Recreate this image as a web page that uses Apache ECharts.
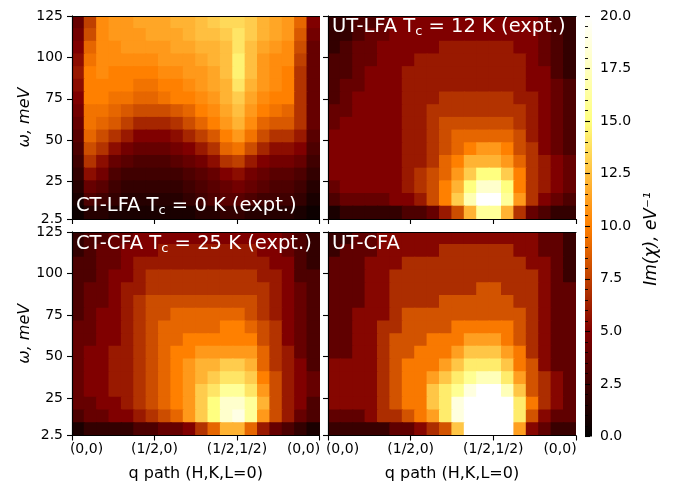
<!DOCTYPE html>
<html><head><meta charset="utf-8">
<script src="https://cdn.jsdelivr.net/npm/echarts@6/dist/echarts.min.js"></script>
<style>html,body{margin:0;padding:0;background:#fff}#c{width:678px;height:485px}</style>
</head><body><div id="c"></div>
<script>
// ---- data ----
const qCenters = [0.075,0.225,0.375,0.525,0.675,0.825,0.975,1.125,1.275,1.425,1.575,1.725,1.875,2.025,2.175,2.325,2.475,2.625,2.775,2.925];
const omegaCenters = [6.3,14.0,21.6,29.3,36.9,44.6,52.3,59.9,67.6,75.2,82.9,90.5,98.2,105.9,113.5,121.2]; // bottom -> top
const qTickLabels = ['(0,0)','(1/2,0)','(1/2,1/2)','(0,0)'];
const omegaTicks = [2.5,25,50,75,100,125];
const colorTicks = [0,2.5,5,7.5,10,12.5,15,17.5,20];

// Im(chi) maps, rows from omega=125 (top) down to omega=2.5 (bottom), columns along q path
const ctLfa = [
 [4,7.5,10.5,11,11,11.5,11.5,11.5,12,12,12.5,13,13.5,13.5,13,12,11.5,11,9,5],
 [4.5,8,10.5,11,11,11,11.5,11.5,11.5,12,12.5,12.5,13,14,13,12,11.5,11,8.5,4.5],
 [5,9,10.5,10.5,11,11,11,11,11.5,11.5,12,12,12.5,14,12.5,11.5,11,10.5,8,4],
 [5.5,9.5,10.5,10.5,10.5,10.5,10.5,11,11,11,11.5,12,12.5,14.5,12.5,11,10.5,10.5,7.5,4],
 [6,10,10.5,10,10,10,10,10.5,10.5,11,11,11.5,12.5,14.5,12.5,11,10.5,10,7,4],
 [5.5,10,10,10,10,9.5,9.5,10,10,10.5,11,11.5,12,14,12,11,10.5,10,7,4],
 [5,10,10,9.5,9.5,9,9,9.5,10,10,10.5,11,12,13,11.5,10.5,10,10,7,4],
 [4.5,9.5,9.5,9,8.5,8,8,8,8.5,9,10,10.5,11.5,12.5,11,10,9.5,9,7,4],
 [4,9.5,9,8.5,7.5,6.5,6.5,6.5,7,8,9,10,11,12,10.5,9,8.5,8.5,7,4],
 [3.5,9,8,7,6,5,5,5,5.5,6.5,7.5,8.5,10,11,9.5,8,7,7,6,3.5],
 [3,8,7,5.5,4.5,4,4,4,4.5,5,6,7,9,9.5,8,6.5,5.5,5.5,5,3],
 [2.5,7,5.5,4,3.5,3,3,3,3.5,4,4.5,5.5,7,7.5,6,5,4.5,4.5,4,2.5],
 [2,5.5,4.5,3,2.5,2.5,2.5,2.5,2.5,3,3.5,4,5,5.5,4.5,4,3.5,3.5,3,2],
 [1.5,4,3.5,2.5,2,2,2,2,2,2.5,3,3.5,4,4.5,4,3.5,3,3,2.5,1.5],
 [1,3,2.5,2,1.5,1.5,1.5,1.5,1.5,2,2.5,3,3.5,3.5,3,2.5,2.5,2.5,2,1],
 [0.5,1.5,1.5,1,1,1,1,1,1,1,1.5,1.5,2,2,1.5,1.5,1.5,1.5,1,0.5]
];
const utLfa = [
 [1.5,2,2.5,3,3.5,4.5,5,5,5,5,5,5,5,5,5,5,4.5,4,3,2],
 [1.5,2,3,3.5,4,5,5,5,5,5,5,5,5,5,5,5,4.5,4,3,2],
 [2,2.5,3.5,4,4.5,5,5,5,5,5.5,5.5,5.5,5.5,5.5,5.5,5,4.5,4,3,2],
 [2.5,3,3.5,4,4.5,5,5,5.5,5.5,5.5,5.5,5.5,5.5,5.5,5.5,5.5,5,4,3,2],
 [2.5,3,4,4.5,5,5,5.5,6,6,6,6,6,6,6,6,6,5,4.5,3,2],
 [3,3.5,4,4.5,5,5,5.5,6,6,6,6,6,6,6,6,6,5,4.5,3.5,2.5],
 [3,4,4.5,5,5,5,5.5,6,6,6.5,6.5,6.5,6.5,6.5,6.5,6,5.5,4.5,3.5,2.5],
 [3.5,4,4.5,5,5,5,5.5,6,6.5,7,7,7,7,7,7,6.5,5.5,5,4,3],
 [4,4.5,5,5,5,5,5.5,6,7,7.5,8,8,8,8,7.5,7,6,5,4,3],
 [4.5,5,5,5,5,5,5.5,6,7,8,8.5,9,9,9,8.5,7.5,6,5,4,3],
 [5,5,5,5,5,5,5.5,6,7,8,9,10,10.5,10.5,9.5,8,6.5,5,4,3],
 [5,5,5,5,5,5,5.5,6,7,8.5,10,11.5,12,12,11,8.5,6.5,5.5,4.5,3.5],
 [4.5,5,5,5,5,5,5.5,6.5,7.5,9,11,13,14.5,14.5,12.5,9.5,7,5.5,4.5,3.5],
 [4,4.5,4.5,4.5,4.5,5,5.5,6.5,7.5,9.5,12,15,18,18,14.5,10,7,5.5,4.5,3.5],
 [3,3.5,3.5,4,4,4.5,5,6,7.5,9.5,12.5,16.5,21,21,16,10.5,7,5,4,3],
 [1,1.5,1.5,1.5,2,2,2.5,3,4,5.5,8,12,16,16,12,7,4,2.5,2,1.5]
];
const ctCfa = [
 [2,2.5,3,3.5,4,4.5,5,5,5,5,5,5,5,5,5,5,4.5,4,3,2],
 [2,3,3.5,4,4.5,5,5,5.5,5.5,5.5,5.5,5.5,5.5,5.5,5.5,5,5,4,3,2],
 [2.5,3,3.5,4,5,5.5,6,6,6,6,6,6,6,6,6,6,5,4.5,3,2],
 [2.5,3,4,4.5,5,6,6.5,7,7,7,7,7,7,7,6.5,6,5.5,4.5,3,2.5],
 [3,3.5,4,4.5,5.5,6,7,7,7,7,7,7,7,7,7,6.5,5.5,4.5,3.5,2.5],
 [3,3.5,4,5,5.5,6.5,7.5,8,8,8,8,8,8,8,7.5,7,6,5,3.5,2.5],
 [3,4,4.5,5,5.5,6.5,7.5,8,8.5,8.5,8.5,8.5,8.5,8.5,8,7,6,5,3.5,2.5],
 [3.5,4,4.5,5,6,7,7.5,8.5,9,9,9,9,9.5,9.5,9,7.5,6.5,5,4,3],
 [3.5,4,5,5,6,7,8,8.5,9,9.5,10,10,10,10,9.5,8,6.5,5,4,3],
 [4,4.5,5,5.5,6,7,8,8.5,9.5,10,10.5,11,11,11,10.5,8.5,7,5.5,4,3],
 [4,4.5,5,5.5,6,7,8,9,9.5,10.5,11.5,12,12.5,12.5,11.5,9,7,5.5,4.5,3],
 [4,4.5,5,5.5,6,7,8,9,10,11,12,13,13.5,13.5,12.5,10,7.5,6,4.5,3.5],
 [4,4.5,5,5.5,6,7,7.5,8.5,10,11,12.5,14,15.5,15.5,14,11,8,6,4.5,3.5],
 [3.5,4,4.5,5,5.5,6.5,7.5,8.5,9.5,11,13,15,17.5,18,15.5,11.5,8,6,4.5,3],
 [3,3.5,4,4.5,5,6,7,8,9,10.5,12.5,15,18,18.5,15.5,11,7.5,5.5,4,3],
 [1,1.5,1.5,2,2,2.5,3,3.5,4,5,6.5,9,12,12,9,6,4,2.5,2,1]
];
const utCfa = [
 [2,2.5,4,4,5,5,5,5,5.5,5.5,5.5,5.5,5.5,5.5,5.5,5,5,4,3,2],
 [2.5,3,4,4,5,5,5.5,5.5,5.5,6,6,6,7,7,6,5.5,5,4,3,2],
 [3,3.5,4,4.5,5,5.5,6,6.5,7,7,7,7,7,7,7,6.5,5.5,4.5,3.5,2.5],
 [3.5,4,4,4.5,5,6,7,7,7,7,7,7,7,7,7,7,6,5,4,2.5],
 [3.5,4,4,4.5,5,6.5,7,7,7,7,7,7,7.5,7.5,7,7,6,5,4,3],
 [4,4,4,5,5,7,7,7,7,7.5,8,8.5,8.5,8.5,8,7,6.5,5,4,3],
 [4,4,4.5,5,5.5,7,7.5,8.5,8.5,8.5,8.5,8.5,8.5,8.5,8.5,7.5,6.5,5,4,3],
 [4,4,4.5,5,6,7,8.5,8.5,8.5,8.5,9,10,10,10,9,8,7,5.5,4,3],
 [4,4,4.5,5,6.5,7.5,8.5,8.5,9,10,10,11,11.5,11,10,8.5,7,5.5,4,3],
 [4,4,4.5,5,6.5,8,8.5,9,10,10,11,12,12.5,12.5,11,9,7,5.5,4,3],
 [4.5,5,5,5.5,7,8.5,9.5,10,10,11,12.5,14,14,14,12.5,10,7.5,5.5,4,3],
 [5,5,5,5.5,7,8.5,10,10,11.5,12.5,14,15.5,16.5,16.5,14.5,11,8,6,4.5,3],
 [5,5,5,5.5,7,8.5,10,10,12,14,16,18,19.5,19.5,17,12.5,8.5,6,4.5,3],
 [4.5,5,5,5.5,7,8.5,9.5,10,12,14.5,18,21,22,22,21,14,9,6,4.5,3],
 [3.5,4,4,5,6,7,8.5,9.5,11,13.5,18,22,23,23,22,14.5,8.5,5.5,4,3],
 [1.5,1.5,2,2,2.5,3,4,5,6,8,13,20,22,22,20,11,5,3,2,1.5]
];

// ---- styling helpers ----
function afmhot(t){
  t = Math.max(0, Math.min(1, t));
  const c = x => Math.round(255*Math.max(0, Math.min(1, x)));
  return 'rgb(' + c(2*t) + ',' + c(2*t-0.5) + ',' + c(2*t-1) + ')';
}
function levelPieces(step, offset){
  const p = [{lt: offset, color: afmhot(0)}];
  for (let a = offset; a < 30; a += step) p.push({gte: a, lt: a + step, color: afmhot((a + step/2)/20)});
  p.push({gte: 30, color: afmhot(1)});
  return p;
}
const FONT = 'DejaVu Sans';
const panels = [
  {data: ctLfa, left: 72,  top: 16,  width: 247.5, height: 203,   yLab: true,  xLab: false, step: 0.5, offset: -0.25},
  {data: utLfa, left: 328, top: 16,  width: 248,   height: 203,   yLab: false, xLab: false, step: 1,   offset: -0.5},
  {data: ctCfa, left: 72,  top: 232, width: 247.5, height: 203.5, yLab: true,  xLab: true,  step: 1,   offset: -0.5},
  {data: utCfa, left: 328, top: 232, width: 248,   height: 203.5, yLab: false, xLab: true,  step: 1.5, offset: 0}
];

function qLabel(v){
  const i = Math.round(v);
  if (i === 0) return '{l|' + qTickLabels[i] + '}';
  if (i === qTickLabels.length - 1) return '{r|' + qTickLabels[i] + '}';
  return qTickLabels[i];
}

const grid = [], xAxis = [], yAxis = [], series = [], visualMap = [];
const axisLine = {show: true, lineStyle: {color: '#000', width: 1.1}};
panels.forEach((p, i) => {
  grid.push({left: p.left, top: p.top, width: p.width, height: p.height, containLabel: false});
  xAxis.push({type: 'category', gridIndex: i, data: qCenters, position: 'top', z: 10,
    axisLine: axisLine, axisTick: {show: false}, axisLabel: {show: false}, splitLine: {show: false}});
  xAxis.push({type: 'value', gridIndex: i, min: 0, max: 3, interval: 1, position: 'bottom', z: 10,
    axisLine: axisLine, splitLine: {show: false},
    axisTick: {show: true, inside: false, length: 5, lineStyle: {color: '#000', width: 1.1}},
    axisLabel: {show: p.xLab, margin: 7, fontSize: 14, fontFamily: FONT, color: '#000',
      showMinLabel: true, showMaxLabel: true, formatter: qLabel,
      rich: {l: {fontSize: 14, fontFamily: FONT, color: '#000', padding: [0, 0, 0, 29]},
             r: {fontSize: 14, fontFamily: FONT, color: '#000', padding: [0, 32, 0, 0]}}},
    name: p.xLab ? 'q path (H,K,L=0)' : '', nameLocation: 'middle', nameGap: 30,
    nameTextStyle: {fontSize: 16, fontFamily: FONT, color: '#000'}});
  yAxis.push({type: 'category', gridIndex: i, data: omegaCenters, position: 'right', z: 10,
    axisLine: axisLine, axisTick: {show: false}, axisLabel: {show: false}, splitLine: {show: false}});
  yAxis.push({type: 'value', gridIndex: i, min: 2.5, max: 125, position: 'left', z: 10,
    axisLine: axisLine, splitLine: {show: false},
    axisTick: {show: true, inside: false, length: 5, customValues: omegaTicks, lineStyle: {color: '#000', width: 1.1}},
    axisLabel: {show: p.yLab, margin: 9, fontSize: 14, fontFamily: FONT, color: '#000', customValues: omegaTicks,
      formatter: v => String(v)},
    name: p.yLab ? 'ω, meV' : '', nameLocation: 'middle', nameGap: 34,
    nameTextStyle: {fontSize: 16, fontStyle: 'italic', fontFamily: FONT, color: '#000'}});
  const rows = p.data.length;
  const cells = [];
  p.data.forEach((row, r) => row.forEach((v, c) => cells.push([c, rows - 1 - r, v])));
  series.push({type: 'custom', xAxisIndex: 2*i, yAxisIndex: 2*i, data: cells, clip: true,
    encode: {x: 0, y: 1}, animation: false, silent: true,
    renderItem: (params, api) => {
      const c = api.coord([api.value(0), api.value(1)]);
      const s = api.size([1, 1]);
      return {type: 'rect',
        shape: {x: c[0] - s[0]/2 - 0.6, y: c[1] - s[1]/2 - 0.6, width: s[0] + 1.2, height: s[1] + 1.2},
        style: {fill: api.visual('color')}};
    }});
  visualMap.push({type: 'piecewise', show: false, seriesIndex: i, dimension: 2,
    pieces: levelPieces(p.step, p.offset)});
});

// colorbar axis
grid.push({left: 585, top: 16, width: 7, height: 420.5, containLabel: false});
xAxis.push({type: 'value', gridIndex: 4, show: false, min: 0, max: 1});
yAxis.push({type: 'value', gridIndex: 4, min: colorTicks[0], max: colorTicks[colorTicks.length-1], interval: 2.5, position: 'right', z: 10,
  axisLine: {show: false}, splitLine: {show: false}, minorSplitLine: {show: false},
  axisTick: {show: true, inside: false, length: 5, lineStyle: {color: '#000', width: 1.1}},
  minorTick: {show: true, splitNumber: 5, length: 3, lineStyle: {color: '#000', width: 0.9}},
  axisLabel: {margin: 8, fontSize: 14, fontFamily: FONT, color: '#000', formatter: v => v.toFixed(1)}});

const labelRich = {
  a: {fontSize: 19.5, fontFamily: FONT, color: '#fff', lineHeight: 22},
  s: {fontSize: 13, fontFamily: FONT, color: '#fff', lineHeight: 13, verticalAlign: 'bottom'}
};
const panelTitles = [
  {text: '{a|CT-LFA T}{s|c}{a| = 0 K (expt.)}', left: 76, top: 195},
  {text: '{a|UT-LFA T}{s|c}{a| = 12 K (expt.)}', left: 332, top: 16},
  {text: '{a|CT-CFA T}{s|c}{a| = 25 K (expt.)}', left: 76, top: 233},
  {text: '{a|UT-CFA}', left: 332, top: 233}
];

const chart = echarts.init(document.getElementById('c'), null, {renderer: 'canvas'});
chart.setOption({
  animation: false,
  backgroundColor: '#fff',
  textStyle: {fontFamily: FONT},
  title: panelTitles.map(t => ({text: t.text, left: t.left, top: t.top, padding: 0, z: 20,
    textStyle: {rich: labelRich, fontSize: 19.5, color: '#fff', fontWeight: 'normal'}})),
  grid, xAxis, yAxis, series, visualMap,
  graphic: [
    {type: 'rect', shape: {x: 585, y: 16, width: 7, height: 420.5}, z: 1,
      style: {fill: new echarts.graphic.LinearGradient(0, 1, 0, 0, [
        {offset: 0, color: afmhot(0)}, {offset: 0.25, color: afmhot(0.25)},
        {offset: 0.5, color: afmhot(0.5)}, {offset: 0.75, color: afmhot(0.75)},
        {offset: 1, color: afmhot(1)}])}},
    {type: 'text', x: 652, y: 239, rotation: Math.PI/2, z: 5,
      style: {text: 'Im(χ), eV⁻¹', fontSize: 17, fontStyle: 'italic', fontFamily: FONT,
        fill: '#000', align: 'center', verticalAlign: 'middle'}}
  ]
});
</script></body></html>
